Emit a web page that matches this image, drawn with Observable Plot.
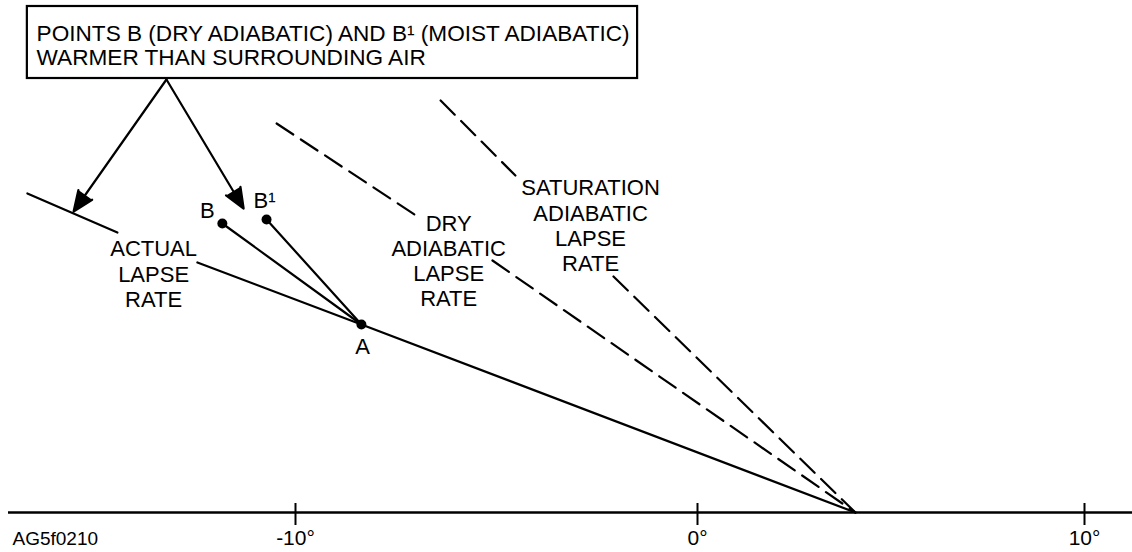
<!DOCTYPE html>
<html>
<head>
<meta charset="utf-8">
<script src="https://cdn.jsdelivr.net/npm/d3@7"></script>
<script src="https://cdn.jsdelivr.net/npm/@observablehq/plot@0.6"></script>
<style>
  html, body { margin: 0; padding: 0; background: #fff; }
</style>
</head>
<body>
<div id="chart"></div>
<script>
// Temperature (°C) axis ticks
const xTicks = [-10, 0, 10];
const xTickLabels = ["-10°", "0°", "10°"];

// Actual lapse rate (solid), broken where its label sits
const actualT   = [-16.67, -14.43, -12.44, -8.36, 4.08];
const actualZ   = [3190, 2800, 2500, 1880, 0];
const actualSeg = [0, 0, 1, 1, 1];

// Dry adiabatic lapse rate (dashed)
const dryT   = [-10.47, -6.89, -5.10, 4.08];
const dryZ   = [3890, 2940, 2520, 0];
const drySeg = [0, 0, 1, 1];

// Saturation adiabatic lapse rate (dashed)
const satT   = [-6.39, -4.53, -2.09, 4.08];
const satZ   = [4120, 3370, 2360, 0];
const satSeg = [0, 0, 1, 1];

// Points A, B (dry adiabatic), B1 (moist adiabatic)
const pointNames = ["A", "B", "B¹"];
const pointT = [-8.36, -11.82, -10.72];
const pointZ = [1880, 2890, 2930];

// Point labels
const pointLabelT = [-8.33, -12.19, -10.77];
const pointLabelZ = [1660, 3020, 3120];

// Curve labels
const curveLabels = ["ACTUAL\nLAPSE\nRATE", "DRY\nADIABATIC\nLAPSE\nRATE", "SATURATION\nADIABATIC\nLAPSE\nRATE"];
const curveLabelT = [-13.53, -6.19, -2.66];
const curveLabelZ = [2390, 2520, 2875];

// Callout box
const calloutText = "POINTS B (DRY ADIABATIC) AND B¹ (MOIST ADIABATIC)\nWARMER THAN SURROUNDING AIR";
const calloutBoxT = [-16.67, -1.49];
const calloutBoxZ = [4340, 5060];
const calloutTextT = -16.44;
const calloutTextZ = 4675;

// Callout arrows (from box to actual lapse line and to B)
const arrowFromT = [-13.21, -13.21];
const arrowFromZ = [4330, 4330];
const arrowToT = [-15.52, -11.29];
const arrowToZ = [3010, 3040];

const figureCode = "AG5f0210";
const figureCodeT = -17.04;
const figureCodeZ = -260;

// ---- build tables ----
const lines = [];
actualT.forEach((t, i) => lines.push({t, z: actualZ[i], key: "a" + actualSeg[i], dash: false}));
dryT.forEach((t, i) => lines.push({t, z: dryZ[i], key: "d" + drySeg[i], dash: true}));
satT.forEach((t, i) => lines.push({t, z: satZ[i], key: "s" + satSeg[i], dash: true}));
const solid = lines.filter(d => !d.dash);
const dashed = lines.filter(d => d.dash);

const points = pointNames.map((n, i) => ({n, t: pointT[i], z: pointZ[i], lt: pointLabelT[i], lz: pointLabelZ[i]}));
const parcelLines = [
  {t: pointT[1], z: pointZ[1], k: "B"}, {t: pointT[0], z: pointZ[0], k: "B"},
  {t: pointT[2], z: pointZ[2], k: "B1"}, {t: pointT[0], z: pointZ[0], k: "B1"}
];
const curveLabelData = curveLabels.map((s, i) => ({s, t: curveLabelT[i], z: curveLabelZ[i]}));
const arrows = arrowFromT.map((t, i) => ({t1: t, z1: arrowFromZ[i], t2: arrowToT[i], z2: arrowToZ[i]}));

const font = "'Liberation Sans', Arial, Helvetica, sans-serif";

const chart = Plot.plot({
  width: 1132,
  height: 552,
  marginLeft: 8,
  marginRight: 0,
  marginTop: 0,
  marginBottom: 40,
  style: {fontFamily: font, background: "#fff", color: "#000"},
  x: {type: "linear", domain: [-10, 0, 10], range: [295, 697, 1084], label: null},
  y: {type: "linear", domain: [0, 5120], range: [512, 0], label: null, axis: null},
  marks: [
    Plot.ruleY([0], {stroke: "black", strokeWidth: 2.5}),
    Plot.axisX({ticks: xTicks, tickSize: 22, dy: -9, tickFormat: () => "", strokeWidth: 2, label: null}),
    Plot.axisX({ticks: xTicks, tickSize: 0, tickPadding: 18, tickFormat: d => xTickLabels[xTicks.indexOf(d)], fontSize: 21, label: null}),
    Plot.line(solid, {x: "t", y: "z", z: "key", stroke: "black", strokeWidth: 2.2}),
    Plot.line(dashed, {x: "t", y: "z", z: "key", stroke: "black", strokeWidth: 2.2, strokeDasharray: "20 9"}),
    Plot.line(parcelLines, {x: "t", y: "z", z: "k", stroke: "black", strokeWidth: 2.2}),
    Plot.dot(points, {x: "t", y: "z", r: 5, fill: "black"}),
    Plot.text(points, {x: "lt", y: "lz", text: "n", fontSize: 22, fill: "black"}),
    Plot.text(curveLabelData, {x: "t", y: "z", text: "s", fontSize: 22, lineHeight: 1.14, textAnchor: "middle", lineAnchor: "middle", fill: "black"}),
    Plot.rect([{}], {x1: () => calloutBoxT[0], x2: () => calloutBoxT[1], y1: () => calloutBoxZ[0], y2: () => calloutBoxZ[1], fill: "white", stroke: "black", strokeWidth: 2.2}),
    Plot.text([calloutText], {x: () => calloutTextT, y: () => calloutTextZ, text: d => d, fontSize: 22.6, lineHeight: 1.1, textAnchor: "start", lineAnchor: "middle", fill: "black"}),
    Plot.arrow(arrows, {x1: "t1", y1: "z1", x2: "t2", y2: "z2", stroke: "black", strokeWidth: 2.2, headLength: 15, headAngle: 45}),
    Plot.text([figureCode], {x: () => figureCodeT, y: () => figureCodeZ, text: d => d, fontSize: 19, textAnchor: "start", lineAnchor: "middle", fill: "black"})
  ]
});

d3.select(chart).selectAll('g[aria-label="arrow"] path').attr("fill", "black").attr("stroke-linejoin", "miter");
document.getElementById("chart").appendChild(chart);
</script>
</body>
</html>
